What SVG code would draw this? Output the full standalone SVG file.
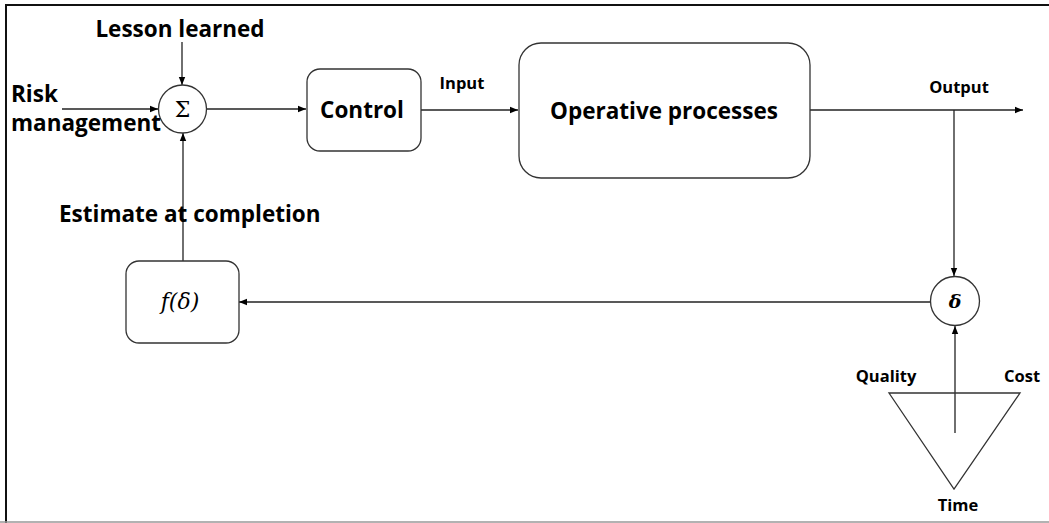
<svg xmlns="http://www.w3.org/2000/svg" width="1049" height="523" viewBox="0 0 1049 523">
<defs>
<marker id="ah" viewBox="0 0 10 10" refX="10" refY="5" markerWidth="8" markerHeight="8" markerUnits="userSpaceOnUse" orient="auto"><path d="M0,1 L10,5 L0,9 z" fill="#000"/></marker>
<style>
.box{fill:#fff;stroke:#333;stroke-width:1.3}
.ln{fill:none;stroke:#222;stroke-width:1.3}
.big{font-family:"Open Sans","Noto Sans",sans-serif;font-weight:bold;font-size:22.5px;fill:#000}
.sm{font-family:"Open Sans","Noto Sans",sans-serif;font-weight:bold;font-size:16.5px;fill:#000}
.math{font-family:"DejaVu Serif","Liberation Serif",serif;fill:#000}
</style>
</defs>
<rect x="0" y="0" width="1049" height="523" fill="#fff"/>
<path d="M6,523 V5 H1049" fill="none" stroke="#111" stroke-width="2"/>
<line x1="0" y1="522" x2="1049" y2="522" stroke="#999" stroke-width="1.5"/>
<g id="connectors">
<line class="ln" x1="182" y1="42" x2="182" y2="85" marker-end="url(#ah)"/>
<line class="ln" x1="62" y1="109" x2="158" y2="109" marker-end="url(#ah)"/>
<line class="ln" x1="207" y1="109" x2="306" y2="109" marker-end="url(#ah)"/>
<line class="ln" x1="421" y1="110" x2="518" y2="110" marker-end="url(#ah)"/>
<line class="ln" x1="810" y1="110" x2="1023" y2="110" marker-end="url(#ah)"/>
<line class="ln" x1="954" y1="110" x2="954" y2="276" marker-end="url(#ah)"/>
<line class="ln" x1="930" y1="302" x2="239" y2="302" marker-end="url(#ah)"/>
<line class="ln" x1="183" y1="261" x2="183" y2="133" marker-end="url(#ah)"/>
<line class="ln" x1="955" y1="433" x2="955" y2="326" marker-end="url(#ah)"/>
</g>
<g id="sum"><circle class="box" cx="182.5" cy="109" r="24"/><text class="math" x="182.5" y="117" font-size="22" text-anchor="middle">Σ</text></g>
<g id="control"><rect class="box" x="307" y="69" width="114" height="82" rx="13"/><text class="big" x="362" y="118" text-anchor="middle">Control</text></g>
<g id="operative"><rect class="box" x="519" y="43" width="291" height="135" rx="22"/><text class="big" x="664" y="119" text-anchor="middle">Operative processes</text></g>
<g id="delta"><circle class="box" cx="955" cy="301" r="24.5"/><text class="math" x="955" y="308" font-size="19" font-style="italic" font-weight="bold" text-anchor="middle">δ</text></g>
<g id="fdelta"><rect class="box" x="126" y="261" width="113" height="82" rx="13"/><text class="math" x="180" y="309" font-size="22" font-style="italic" text-anchor="middle">f(δ)</text></g>
<g id="triangle"><polygon points="889,393 1020,393 954,489" fill="none" stroke="#333" stroke-width="1.3"/></g>
<g id="labels">
<text class="big" x="180" y="37" text-anchor="middle">Lesson learned</text>
<text class="big" x="11" y="102">Risk</text>
<text class="big" x="11" y="131">management</text>
<text class="big" x="59" y="222">Estimate at completion</text>
<text class="sm" x="462" y="89" text-anchor="middle">Input</text>
<text class="sm" x="959" y="93" text-anchor="middle">Output</text>
<text class="sm" x="886" y="382" text-anchor="middle">Quality</text>
<text class="sm" x="1022" y="382" text-anchor="middle">Cost</text>
<text class="sm" x="958" y="511" text-anchor="middle">Time</text>
</g>
</svg>
